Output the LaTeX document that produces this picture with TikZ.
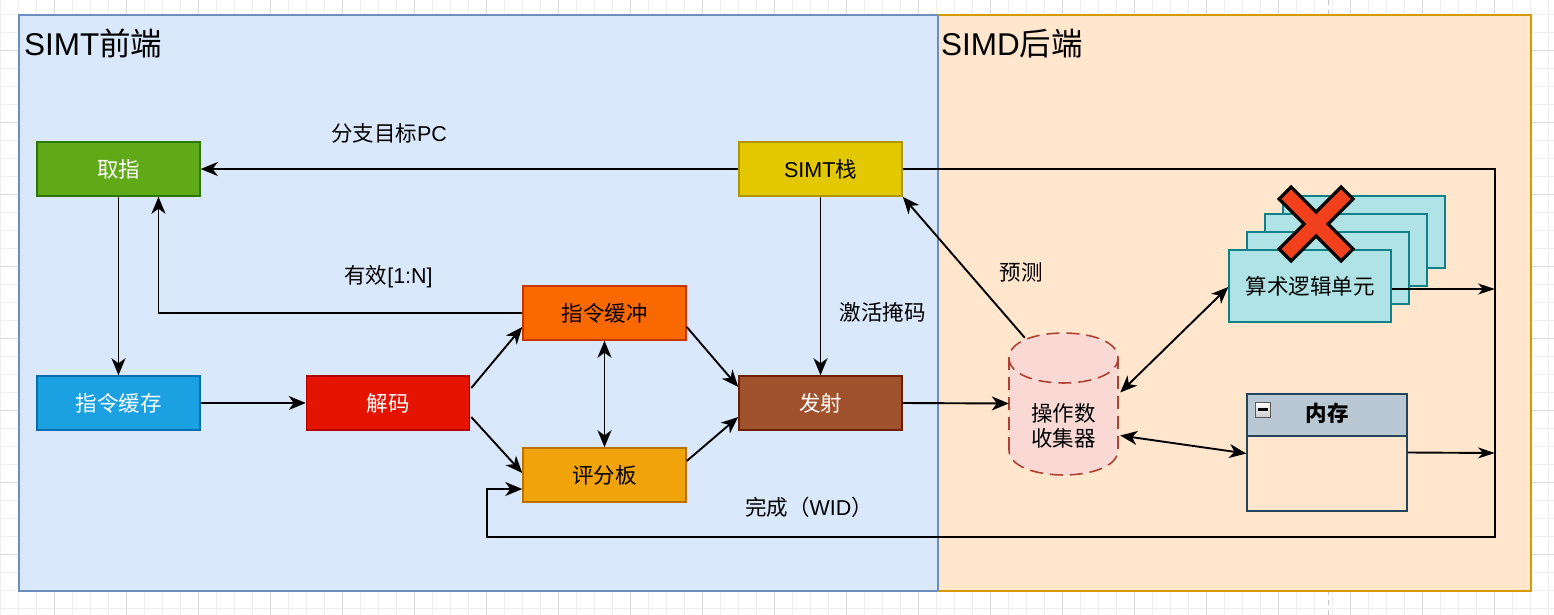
\documentclass[tikz,border=0pt]{standalone}
\usepackage{fontspec}
\setmainfont{Liberation Sans}
\newfontfamily\cjk{Noto Sans CJK SC}
\usetikzlibrary{arrows.meta,calc}
\newcommand\zh[1]{{\cjk #1}}
\newcommand\fs{\fontsize{21.5}{25}\selectfont}
\newcommand\ftitle{\fontsize{31.5}{36}\selectfont}
\definecolor{gridminor}{HTML}{EFEFEF}
\definecolor{gridmajor}{HTML}{DADADA}
\definecolor{frontfill}{HTML}{DAE8FC}
\definecolor{frontline}{HTML}{6C8EBF}
\definecolor{backfill}{HTML}{FFE6CC}
\definecolor{backline}{HTML}{D79B00}
\definecolor{fetchfill}{HTML}{60A917}
\definecolor{fetchline}{HTML}{2D7600}
\definecolor{icfill}{HTML}{1BA1E2}
\definecolor{icline}{HTML}{006EAF}
\definecolor{decfill}{HTML}{E51400}
\definecolor{decline}{HTML}{B20000}
\definecolor{ibfill}{HTML}{FA6800}
\definecolor{ibline}{HTML}{C73500}
\definecolor{sbfill}{HTML}{F0A30A}
\definecolor{sbline}{HTML}{BD7000}
\definecolor{issfill}{HTML}{A0522D}
\definecolor{issline}{HTML}{6D1F00}
\definecolor{stkfill}{HTML}{E3C800}
\definecolor{stkline}{HTML}{B09500}
\definecolor{opcfill}{HTML}{FAD9D5}
\definecolor{opcline}{HTML}{AE4132}
\definecolor{alufill}{HTML}{B0E3E6}
\definecolor{aluline}{HTML}{0E8088}
\definecolor{memfill}{HTML}{BAC8D3}
\definecolor{memline}{HTML}{23445D}
\definecolor{xred}{HTML}{F2401C}
\tikzset{
  box/.style={rectangle, minimum width=163pt, minimum height=54pt, inner sep=0pt, line width=1.5pt, font=\fs},
  alubox/.style={rectangle, minimum width=162pt, minimum height=72pt, inner sep=0pt, line width=1.5pt, fill=alufill, draw=aluline, font=\fs},
  lbl/.style={inner sep=0pt, font=\fs},
  arr/.style={-{Stealth[length=17pt,width=14pt,inset=5pt]}, line width=1.9pt},
  arrtwo/.style={{Stealth[length=17pt,width=14pt,inset=5pt]}-{Stealth[length=17pt,width=14pt,inset=5pt]}, line width=1.9pt},
  arrthin/.style={-{Stealth[length=17pt,width=11pt,inset=5pt]}, line width=1.9pt}
}
\begin{document}
\begin{tikzpicture}[x=1pt,y=-1pt]
\useasboundingbox (0,0) rectangle (1554,615);
\fill[white] (0,0) rectangle (1554,615);
% grid
\foreach \k in {0,...,86} \draw[gridminor, line width=0.8pt] ({0.3+18*\k},0) -- ({0.3+18*\k},615);
\foreach \k in {0,...,33} \draw[gridminor, line width=0.8pt] (0,{14+18*\k}) -- (1554,{14+18*\k});
\foreach \k in {0,...,21} \draw[gridmajor, line width=0.8pt] ({54.3+72*\k},0) -- ({54.3+72*\k},615);
\foreach \k in {0,...,8} \draw[gridmajor, line width=0.8pt] (0,{50+72*\k}) -- (1554,{50+72*\k});
\draw[gray!45, line width=1pt, dash pattern=on 5pt off 5pt] (1328,0) -- (1328,615);
% panels
\node[rectangle, fill=frontfill, draw=frontline, line width=1.7pt, minimum width=919pt, minimum height=576pt, inner sep=0pt] (front) at (478.5,303) {};
\node[rectangle, fill=backfill, draw=backline, line width=1.7pt, minimum width=593pt, minimum height=576pt, inner sep=0pt] (back) at (1234.5,303) {};
\draw[frontline, line width=1.7pt] (938,15) -- (938,591);
\node[anchor=west, inner sep=0pt, font=\ftitle] (ftitle) at (24,43.5) {SIMT\zh{前端}};
\node[anchor=west, inner sep=0pt, font=\ftitle] (btitle) at (941,43.5) {SIMD\zh{后端}};
% boxes
\node[box, fill=fetchfill, draw=fetchline, text=white] (fetch) at (118.5,169) {\zh{取指}};
\node[box, fill=icfill, draw=icline, text=white] (icache) at (118.5,403) {\zh{指令缓存}};
\node[box, fill=decfill, draw=decline, text=white] (dec) at (388,403) {\zh{解码}};
\node[box, fill=ibfill, draw=ibline] (ib) at (604.5,313) {\zh{指令缓冲}};
\node[box, fill=sbfill, draw=sbline] (sb) at (604.5,475) {\zh{评分板}};
\node[box, fill=issfill, draw=issline, text=white] (issue) at (820.5,403) {\zh{发射}};
\node[box, fill=stkfill, draw=stkline] (stack) at (820.5,169) {SIMT\zh{栈}};
% operand collector cylinder
\fill[opcfill] (1009,358) .. controls (1009,324.7) and (1118,324.7) .. (1118,358) -- (1118,450) .. controls (1118,483.3) and (1009,483.3) .. (1009,450) -- cycle;
\draw[opcline, line width=1.6pt, dash pattern=on 13pt off 7pt] (1009,450) -- (1009,358) .. controls (1009,324.7) and (1118,324.7) .. (1118,358) -- (1118,450) .. controls (1118,483.3) and (1009,483.3) .. (1009,450);
\draw[opcline, line width=1.6pt, dash pattern=on 13pt off 7pt] (1009,358) .. controls (1009,391.3) and (1118,391.3) .. (1118,358);
\node[rectangle, minimum width=109pt, minimum height=143pt, inner sep=0pt] (opc) at (1063.5,403.5) {};
\node[lbl, align=center] (opclabel) at (1063.5,425.5) {\zh{操作数}\\[0pt]\zh{收集器}};
% ALU stack
\node[alubox] (alud) at (1364,232) {};
\node[alubox] (aluc) at (1346,250) {};
\node[alubox] (alub) at (1328,268) {};
\node[alubox] (alu) at (1310,286) {\zh{算术逻辑单元}};
% red cross
\begin{scope}[shift={(1316,224)}]
\filldraw[fill=xred, draw=black, line width=3.2pt, line join=miter] (-37,-25) -- (-25,-37) -- (0,-12) -- (25,-37) -- (37,-25) -- (12,0) -- (37,25) -- (25,37) -- (0,12) -- (-25,37) -- (-37,25) -- (-12,0) -- cycle;
\end{scope}
% memory
\node[rectangle, minimum width=160pt, minimum height=42pt, inner sep=0pt, fill=memfill, draw=memline, line width=1.5pt] (memh) at (1327,415) {};
\node[inner sep=0pt, font=\fs\bfseries] (memt) at (1327,413) {\zh{\bfseries 内存}};
\node[rectangle, minimum width=160pt, minimum height=75pt, inner sep=0pt, draw=memline, line width=1.5pt] (memb) at (1327,473.5) {};
\node[rectangle, minimum width=15pt, minimum height=15pt, inner sep=0pt, top color=white, bottom color=gray!40, draw=gray!70!black, line width=0.8pt] (memicon) at (1263,409.5) {};
\draw[line width=2.2pt] ($(memicon.center)+(-5,0)$) -- ($(memicon.center)+(5,0)$);
% coordinates for the right bus
\coordinate (rb) at (1495,537);
\coordinate (lb) at (487,537);
\coordinate (aluR) at (1495,289);
\coordinate (memR) at (1495,453);
% edges
\draw[arr] (stack.west) -- (fetch.east);
\node[lbl] (lpc) at (389,133) {\zh{分支目标}PC};
\draw[arr] (stack.east) -| (rb) -- (lb) |- ($(sb.west)+(0,14)$);
\node[lbl] (ldone) at (809,507) {\zh{完成（}WID\zh{）}};
\draw[arr] (fetch) -- (icache);
\draw[arr] (ib.west) -| ($(fetch.south)+(40,0)$);
\node[lbl] (lvalid) at (388.5,277) {\zh{有效}[1:N]};
\draw[arr] (icache) -- (dec);
\draw[arr] ($(dec.east)+(1,-15)$) -- ($(ib.west)+(0,14)$);
\draw[arr] ($(dec.east)+(1,14)$) -- ($(sb.west)+(0,-2)$);
\draw[arrtwo] (ib) -- (sb);
\draw[arr] ($(ib.east)+(0,14)$) -- ($(issue.west)+(0,-16)$);
\draw[arr] ($(sb.east)+(0,-14)$) -- ($(issue.west)+(0,14)$);
\draw[arr] (stack) -- (issue);
\node[lbl] (lmask) at (882.5,312) {\zh{激活掩码}};
\draw[arr] (issue.east) -- (opc.west);
\draw[arr] ($(opc.north west)+(16,6)$) -- (stack.south east);
\node[lbl] (lpred) at (1021,272) {\zh{预测}};
\draw[arrtwo] ($(opc.east)+(2,-11)$) -- ($(alu.west)+(0,1)$);
\draw[arrtwo] ($(opc.east)+(2,32)$) -- ($(memb.west)+(0,-20)$);
\draw[arrthin] ($(alu.east)+(0,3)$) -- (aluR);
\draw[arrthin] ($(memb.east)+(0,-21)$) -- (memR);
\end{tikzpicture}
\end{document}
